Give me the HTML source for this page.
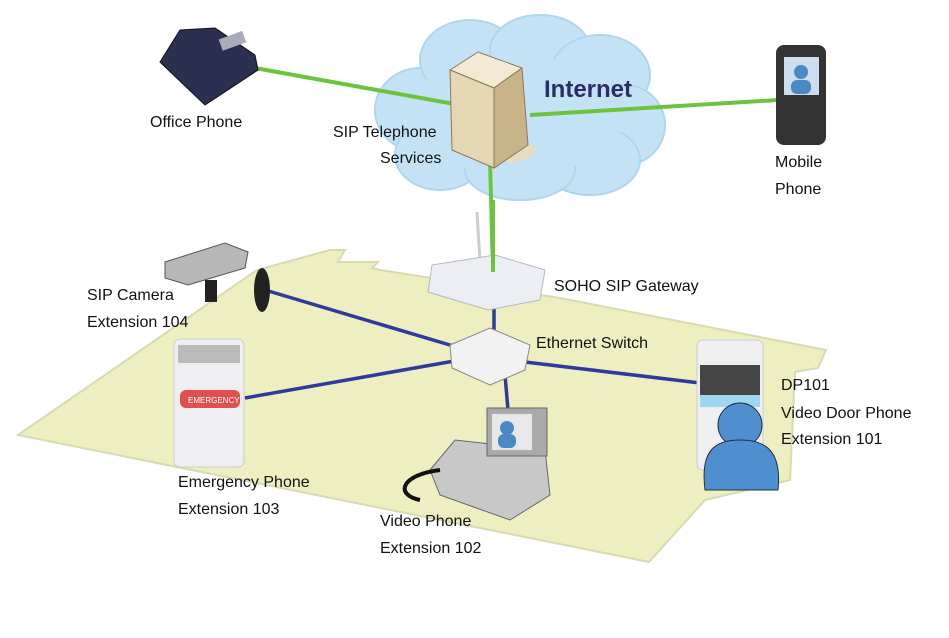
<!DOCTYPE html>
<html><head><style>
body{margin:0;background:#fff;}
svg{display:block}
text{font-family:"Liberation Sans",sans-serif;font-size:16px;fill:#111}
</style></head><body>
<svg width="949" height="638" viewBox="0 0 949 638" xmlns="http://www.w3.org/2000/svg">
<polygon points="18,435 257,270 330,250 345,250 338,262 378,262 372,268 380,270 560,298 826,350 818,368 795,372 790,480 705,500 649,562" fill="#eeefc0" stroke="#d8dab0" stroke-width="2"/>
<g fill="#c4e2f6" stroke="#b0d5ef" stroke-width="2">
<ellipse cx="420" cy="110" rx="45" ry="42"/>
<ellipse cx="440" cy="155" rx="45" ry="35"/>
<ellipse cx="470" cy="60" rx="50" ry="40"/>
<ellipse cx="540" cy="50" rx="50" ry="35"/>
<ellipse cx="600" cy="75" rx="50" ry="40"/>
<ellipse cx="625" cy="125" rx="40" ry="40"/>
<ellipse cx="590" cy="160" rx="50" ry="35"/>
<ellipse cx="520" cy="170" rx="55" ry="30"/>
</g>
<ellipse cx="515" cy="115" rx="110" ry="60" fill="#c4e2f6"/>
<text x="544" y="97" style="font-size:24px;font-weight:bold;fill:#2b2d6b">Internet</text>
<g stroke="#6cc43e" stroke-width="4" fill="none">
<line x1="255" y1="68" x2="460" y2="105"/>
<line x1="530" y1="115" x2="778" y2="100"/>
<line x1="490" y1="160" x2="493" y2="272"/>
</g>
<ellipse cx="510" cy="150" rx="25" ry="12" fill="#e8dcc0"/>
<polygon points="450,70 478,52 522,68 494,88" fill="#f3ead3" stroke="#8a7a55"/>
<polygon points="450,70 494,88 494,168 452,150" fill="#e6d7b4" stroke="#8a7a55"/>
<polygon points="494,88 522,68 528,145 494,168" fill="#c9b48a" stroke="#8a7a55"/>
<g stroke="#2e3a9c" stroke-width="3.5" fill="none">
<line x1="265" y1="290" x2="460" y2="348"/>
<line x1="245" y1="398" x2="460" y2="360"/>
<line x1="525" y1="362" x2="700" y2="383"/>
<line x1="505" y1="375" x2="508" y2="410"/>
<line x1="494" y1="300" x2="494" y2="345"/>
</g>
<line x1="477" y1="212" x2="480" y2="262" stroke="#ccc" stroke-width="3"/>
<polygon points="432,265 495,255 545,270 540,300 488,310 428,292" fill="#eceef3" stroke="#b5b8c4"/>
<line x1="493" y1="200" x2="493" y2="272" stroke="#6cc43e" stroke-width="4"/>
<polygon points="450,345 490,328 530,345 525,370 490,385 452,368" fill="#f2f2f2" stroke="#888"/>
<polygon points="160,62 180,30 215,28 255,55 258,70 205,105" fill="#2c3050" stroke="#111"/>
<rect x="220" y="35" width="25" height="12" fill="#aab" transform="rotate(-20 232 41)"/>
<rect x="776" y="45" width="50" height="100" rx="8" fill="#333"/>
<rect x="784" y="57" width="35" height="38" fill="#cde"/>
<circle cx="801" cy="72" r="7" fill="#4a88c6"/>
<rect x="791" y="80" width="20" height="14" rx="6" fill="#4a88c6"/>
<polygon points="165,262 225,243 248,252 245,268 188,285 165,278" fill="#b8b8b8" stroke="#555"/>
<ellipse cx="262" cy="290" rx="8" ry="22" fill="#222"/>
<rect x="205" y="280" width="12" height="22" fill="#222"/>
<rect x="174" y="339" width="70" height="128" rx="6" fill="#efeff1" stroke="#ccc"/>
<rect x="178" y="345" width="62" height="18" fill="#bbb"/>
<rect x="180" y="390" width="60" height="18" rx="6" fill="#e05050"/>
<text x="188" y="403" style="font-size:8px;fill:#fff">EMERGENCY</text>
<polygon points="430,470 455,440 545,450 550,495 510,520 440,495" fill="#c8c8c8" stroke="#666"/>
<rect x="487" y="408" width="60" height="48" fill="#aaa" stroke="#666"/>
<rect x="492" y="414" width="40" height="36" fill="#e8e8e8"/>
<circle cx="507" cy="428" r="7" fill="#4a88c6"/>
<rect x="498" y="434" width="18" height="14" rx="6" fill="#4a88c6"/>
<path d="M440,470 C400,475 395,495 420,500" stroke="#111" stroke-width="4" fill="none"/>
<rect x="697" y="340" width="66" height="130" rx="6" fill="#efeff1" stroke="#ccc"/>
<rect x="700" y="365" width="60" height="40" fill="#444"/>
<rect x="700" y="395" width="60" height="12" fill="#9ed8f0"/>
<circle cx="740" cy="425" r="22" fill="#4f8fcf" stroke="#234"/>
<path d="M705,490 C700,450 715,440 740,440 C765,440 782,450 778,490 Z" fill="#4f8fcf" stroke="#234"/>
<text x="150" y="127">Office Phone</text>
<text x="333" y="137">SIP Telephone</text>
<text x="380" y="163">Services</text>
<text x="775" y="167">Mobile</text>
<text x="775" y="194">Phone</text>
<text x="554" y="291">SOHO SIP Gateway</text>
<text x="87" y="300">SIP Camera</text>
<text x="87" y="327">Extension 104</text>
<text x="536" y="348">Ethernet Switch</text>
<text x="781" y="390">DP101</text>
<text x="781" y="418">Video Door Phone</text>
<text x="781" y="444">Extension 101</text>
<text x="178" y="487">Emergency Phone</text>
<text x="178" y="514">Extension 103</text>
<text x="380" y="526">Video Phone</text>
<text x="380" y="553">Extension 102</text>
</svg>
</body></html>
